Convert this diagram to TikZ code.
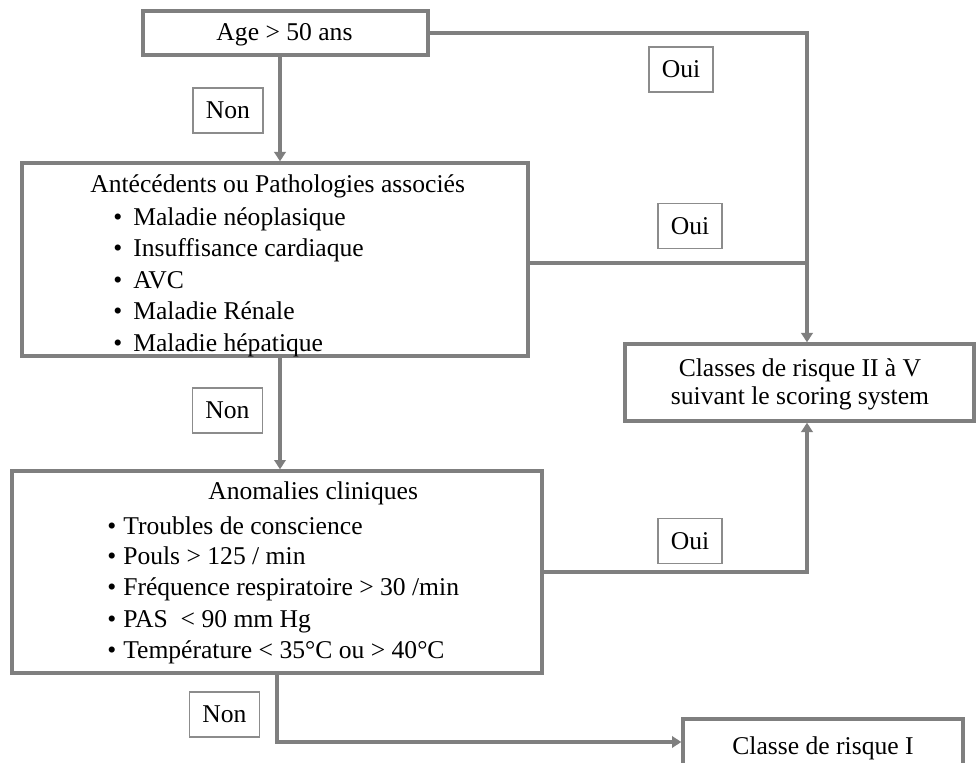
\documentclass[tikz,border=0pt]{standalone}
\usepackage{fontspec}
\setmainfont{Liberation Serif}
\usetikzlibrary{arrows.meta}
\definecolor{lg}{HTML}{7F7F7F}
\definecolor{lbl}{HTML}{8C8C8C}
\begin{document}
\begin{tikzpicture}[x=0.75pt,y=-0.75pt,
  box/.style={draw=lg,line width=2.5pt,fill=white,inner sep=0pt},
  lab/.style={draw=lbl,line width=1.1pt,fill=white,inner sep=0pt,font=\fontsize{19.2}{23}\selectfont,minimum height=33.75pt},
  conn/.style={draw=lg,line width=2.5pt},
  arr/.style={conn,-{Triangle[width=8.5pt,length=7pt]}},
  txt/.style={font=\fontsize{19.2}{23}\selectfont,inner sep=0pt,anchor=base west},
  ctxt/.style={font=\fontsize{19.2}{23}\selectfont,inner sep=0pt,anchor=base}]
\useasboundingbox (0,0) rectangle (976,763);
\clip (0,0) rectangle (976,763);
\fill[white] (0,0) rectangle (976,763);

% boxes
\node[box,minimum width=213.75pt,minimum height=33pt] (age) at (285.5,33) {};
\node[box,minimum width=379.5pt,minimum height=144.75pt] (ant) at (275,259.5) {};
\node[box,minimum width=261.75pt,minimum height=57.75pt] (cls) at (799.5,382.5) {};
\node[box,minimum width=397.5pt,minimum height=151.5pt] (ano) at (277,572) {};
\node[box,minimum width=210pt,minimum height=38.25pt] (c1) at (823,744.5) {};

% coordinates
\coordinate (a1) at (280,0);
\coordinate (jx) at (807,0);
\coordinate (j2) at (807,263);
\coordinate (a3) at (277,742);

% connectors
\draw[arr] (age.south -| a1) -- (ant.north -| a1);
\draw[arr] (age.east) -- (age.east -| jx) -- (cls.north -| jx);
\draw[conn] (ant.east |- j2) -- (j2);
\draw[arr] (ant.south -| a1) -- (ano.north -| a1);
\draw[arr] (ano.east) -- (ano.east -| jx) -- (cls.south -| jx);
\draw[arr] (ano.south -| a3) -- (a3) -- (c1.west |- a3);

% texts
\node[ctxt] (tage) at (284.5,41) {Age > 50 ans};

\node[txt] (tant) at (90,193) {Antécédents ou Pathologies associés};
\foreach \y/\t [count=\i] in {225.5/{Maladie néoplasique},257/{Insuffisance cardiaque},288.5/{AVC},320/{Maladie Rénale},351.5/{Maladie hépatique}}{
  \node[txt] (bant\i) at (113,\y) {•};
  \node[txt] (lant\i) at (133,\y) {\t};
}

\node[ctxt] (tcls1) at (800,377) {Classes de risque II à V};
\node[ctxt] (tcls2) at (800,405) {suivant le scoring system};

\node[txt] (tano) at (208,499) {Anomalies cliniques};
\foreach \y/\t [count=\i] in {534/{Troubles de conscience},564/{Pouls > 125 / min},595/{Fréquence respiratoire > 30 /min},627/{PAS~ < 90 mm Hg},658/{Température < 35°C ou > 40°C}}{
  \node[txt] (bano\i) at (107,\y) {•};
  \node[txt] (lano\i) at (123,\y) {\t};
}

\node[ctxt] (tc1) at (823,754) {Classe de risque I};

% labels
\node[lab,minimum width=52.5pt] (non1) at (228,110.5) {Non};
\node[lab,minimum width=48pt] (oui1) at (681,69.5) {Oui};
\node[lab,minimum width=48pt] (oui2) at (690,226) {Oui};
\node[lab,minimum width=52.5pt] (non2) at (227.5,410.5) {Non};
\node[lab,minimum width=48pt] (oui3) at (690,541) {Oui};
\node[lab,minimum width=52.5pt] (non3) at (224.5,714.5) {Non};
\end{tikzpicture}
\end{document}
